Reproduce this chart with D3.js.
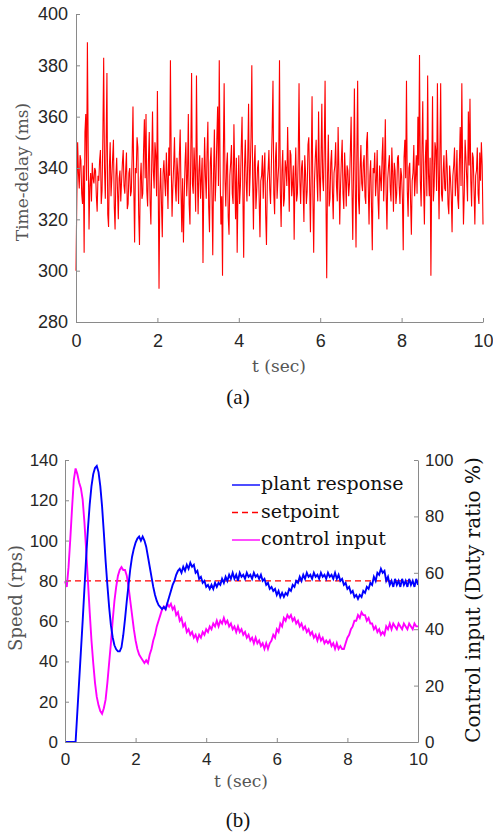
<!DOCTYPE html>
<html lang="en">
<head>
    <meta charset="UTF-8">
    <title>Time-delay and speed response</title>
    <script src="https://cdnjs.cloudflare.com/ajax/libs/d3/7.8.5/d3.min.js"></script>
    <style>
        body {
            margin: 0;
            background: white;
        }
        svg {
            display: block;
        }
        .axis path, .axis line {
            stroke: #8a8a8a;
            stroke-width: 1px;
        }
        .axis text {
            font-family: "Liberation Sans", Arial, sans-serif;
            fill: #262626;
        }
        .label {
            font-family: "DejaVu Serif", serif;
        }
        .caption {
            font-family: "Liberation Serif", "Times New Roman", serif;
            font-size: 21px;
            fill: #111;
        }
    </style>
</head>
<body>
    <svg id="chart" width="493" height="835"></svg>

    <script>
        // (a) network time-delay, one sample every 0.02 s (one row = 1 s)
        const delayStep = 0.02;
        const delayMs = [
            300, 328, 350, 338, 332, 345, 343, 330, 326, 341, 307, 354, 361, 335, 389, 347, 316, 333, 338, 327, 342, 336, 334, 340, 339, 329, 323, 337, 335, 343, 347, 326, 331, 352, 383, 340, 328, 349, 377, 322, 317, 340, 350, 329, 336, 344, 351, 325, 316, 337,
            344, 331, 320, 336, 339, 327, 335, 342, 347, 333, 330, 339, 346, 324, 326, 338, 340, 329, 331, 345, 364, 333, 311, 340, 338, 352, 348, 322, 310, 335, 342, 328, 330, 347, 359, 336, 361, 331, 325, 343, 354, 327, 318, 341, 362, 339, 332, 350, 345, 329,
            370, 334, 293, 331, 340, 326, 313, 338, 343, 335, 329, 346, 336, 324, 348, 337, 382, 341, 321, 333, 341, 352, 333, 327, 344, 338, 326, 345, 355, 331, 315, 336, 311, 329, 342, 350, 329, 337, 361, 326, 318, 345, 377, 334, 330, 348, 339, 323, 376, 340,
            322, 339, 345, 328, 336, 344, 303, 333, 352, 337, 328, 346, 358, 325, 315, 342, 348, 330, 306, 338, 355, 327, 336, 351, 364, 333, 382, 340, 318, 329, 298, 345, 373, 336, 325, 341, 346, 321, 314, 337, 342, 349, 330, 326, 357, 339, 320, 344, 307, 331,
            345, 326, 333, 348, 360, 330, 305, 340, 351, 335, 327, 344, 365, 329, 338, 352, 380, 336, 316, 342, 349, 324, 331, 340, 343, 328, 313, 335, 337, 345, 328, 339, 346, 322, 310, 334, 339, 347, 332, 326, 341, 355, 374, 330, 322, 343, 350, 328, 335, 341,
            382, 331, 317, 339, 347, 325, 328, 343, 340, 333, 356, 338, 323, 347, 345, 329, 334, 341, 312, 336, 348, 327, 330, 344, 373, 335, 326, 340, 343, 332, 319, 345, 338, 326, 331, 349, 352, 334, 315, 340, 368, 329, 307, 335, 344, 351, 336, 327, 362, 338,
            327, 343, 365, 336, 331, 348, 374, 330, 297, 337, 353, 325, 328, 342, 347, 331, 320, 338, 341, 350, 333, 327, 356, 339, 318, 333, 343, 351, 330, 324, 346, 337, 325, 341, 339, 329, 334, 346, 360, 332, 312, 340, 371, 335, 309, 344, 374, 328, 322, 339,
            349, 334, 331, 342, 345, 329, 326, 350, 354, 333, 318, 337, 343, 325, 308, 340, 338, 346, 329, 335, 347, 328, 320, 341, 336, 331, 344, 352, 327, 339, 359, 330, 316, 336, 341, 345, 332, 327, 348, 338, 323, 342, 339, 326, 330, 344, 345, 333, 326, 340,
            337, 328, 308, 344, 351, 336, 374, 331, 321, 340, 342, 327, 314, 335, 338, 349, 329, 336, 345, 330, 360, 341, 384, 335, 325, 347, 366, 333, 318, 342, 351, 329, 376, 338, 329, 344, 298, 336, 368, 327, 333, 350, 347, 331, 373, 339, 320, 345, 373, 330,
            327, 338, 345, 332, 331, 347, 340, 326, 322, 341, 336, 329, 315, 337, 341, 348, 329, 335, 347, 328, 324, 342, 356, 333, 373, 339, 318, 330, 351, 344, 336, 327, 362, 341, 367, 335, 325, 346, 344, 331, 318, 337, 339, 348, 330, 326, 346, 335, 350, 341,
            318
        ];

        // (b) speed loop, one sample every 0.05 s
        const speedStep = 0.05;
        const plantResponse = [
            0, 0, 0, 0, 0, 0, 0, 15, 30, 45, 60, 76, 92, 106, 118, 127, 133, 136, 137, 134,
            127, 117, 104, 90, 78, 67, 58, 52, 48, 46, 45, 45, 47, 53, 61, 70, 78, 86, 92, 96,
            99, 101, 102, 100, 102, 100, 97, 92, 87, 82, 77, 73, 70, 68, 67, 66, 67, 66, 69, 72,
            75, 78, 80, 83, 85, 86, 84, 87, 85, 88, 86, 89, 87, 88, 84, 85, 81, 82, 79, 80,
            77, 78, 76, 78, 76, 79, 77, 79, 78, 81, 79, 82, 80, 83, 81, 84, 81, 83, 80, 84,
            82, 83, 81, 84, 82, 83, 81, 84, 82, 83, 81, 83, 80, 81, 78, 79, 76, 77, 75, 76,
            73, 75, 72, 74, 72, 74, 73, 76, 75, 78, 77, 80, 79, 82, 80, 83, 81, 84, 82, 83,
            81, 84, 82, 83, 81, 84, 82, 83, 81, 84, 82, 83, 81, 84, 81, 83, 80, 81, 78, 79,
            76, 77, 74, 75, 72, 73, 71, 73, 72, 75, 74, 77, 76, 79, 78, 82, 80, 84, 83, 86,
            84, 85, 80, 82, 78, 80, 77, 81, 78, 80, 77, 81, 78, 80, 77, 81, 78, 80, 77, 81,
            78
        ];
        const controlInput = [
            57, 55, 62, 72, 83, 93, 97, 95, 92, 90, 86, 78, 68, 57, 46, 36, 28, 21, 16, 13,
            11, 10, 12, 15, 21, 28, 35, 43, 50, 55, 59, 61, 62, 61, 61, 59, 55, 50, 45, 40,
            36, 33, 31, 30, 29, 28, 29, 28, 31, 33, 36, 38, 41, 43, 45, 47, 48, 47, 49, 48,
            49, 47, 48, 45, 46, 43, 44, 41, 42, 39, 40, 38, 39, 37, 38, 36, 38, 37, 39, 38,
            40, 39, 41, 40, 42, 41, 43, 41, 43, 42, 44, 42, 43, 41, 42, 40, 41, 39, 41, 39,
            40, 38, 39, 37, 38, 36, 37, 35, 37, 35, 36, 34, 35, 33, 35, 33, 35, 36, 38, 37,
            40, 39, 42, 41, 44, 43, 45, 44, 45, 43, 44, 42, 43, 41, 42, 40, 41, 39, 40, 38,
            39, 37, 38, 36, 38, 36, 37, 35, 36, 35, 36, 34, 35, 33, 35, 33, 34, 33, 33, 35,
            37, 38, 40, 41, 43, 43, 45, 44, 46, 45, 45, 43, 44, 42, 42, 40, 41, 39, 40, 38,
            39, 38, 41, 40, 42, 40, 42, 41, 40, 42, 41, 40, 42, 41, 40, 42, 41, 40, 42, 41,
            41
        ];
        const setpointSpeed = 80;

        const timeTicks = [0, 2, 4, 6, 8, 10];
        const delayTicks = [280, 300, 320, 340, 360, 380, 400];
        const speedTicks = [0, 20, 40, 60, 80, 100, 120, 140];
        const dutyTicks = [0, 20, 40, 60, 80, 100];

        const legendItems = [
            { name: "plant response", color: "#0000ff", dash: null },
            { name: "setpoint", color: "#ff0000", dash: "6,4" },
            { name: "control input", color: "#ff00ff", dash: null }
        ];

        const svg = d3.select("#chart");

        // ---------- (a) ----------
        const xA = d3.scaleLinear().domain([0, 10]).range([76, 483]);
        const yA = d3.scaleLinear().domain([280, 400]).range([322, 14]);

        svg.append("path")
            .datum(delayMs)
            .attr("fill", "none")
            .attr("stroke", "#ff0000")
            .attr("stroke-width", 1.1)
            .attr("d", d3.line()
                .x((d, i) => xA(i * delayStep))
                .y(d => yA(d)));

        svg.append("g")
            .attr("class", "axis")
            .attr("transform", "translate(0,322)")
            .call(d3.axisBottom(xA).tickValues(timeTicks).tickSize(-4).tickSizeOuter(0).tickPadding(12))
            .selectAll("text").style("font-size", "18px");

        svg.append("g")
            .attr("class", "axis")
            .attr("transform", "translate(76,0)")
            .call(d3.axisLeft(yA).tickValues(delayTicks).tickSize(-4).tickSizeOuter(0).tickPadding(8))
            .selectAll("text").style("font-size", "18px");

        svg.append("text")
            .attr("class", "label")
            .attr("transform", "translate(28,172) rotate(-90)")
            .attr("text-anchor", "middle")
            .style("font-size", "17px")
            .style("fill", "#555")
            .text("Time-delay (ms)");

        svg.append("text")
            .attr("class", "label")
            .attr("x", 279).attr("y", 372)
            .attr("text-anchor", "middle")
            .style("font-size", "17px")
            .style("fill", "#555")
            .text("t (sec)");

        svg.append("text")
            .attr("class", "caption")
            .attr("x", 238).attr("y", 404)
            .attr("text-anchor", "middle")
            .text("(a)");

        // ---------- (b) ----------
        const xB = d3.scaleLinear().domain([0, 10]).range([65, 418]);
        const yB = d3.scaleLinear().domain([0, 140]).range([742, 460]);
        const yDuty = d3.scaleLinear().domain([0, 100]).range([742, 460]);

        svg.append("line")
            .attr("x1", xB(0)).attr("x2", xB(10))
            .attr("y1", yB(setpointSpeed)).attr("y2", yB(setpointSpeed))
            .attr("stroke", "#ff0000")
            .attr("stroke-width", 1.4)
            .attr("stroke-dasharray", "6,4");

        svg.append("path")
            .datum(controlInput)
            .attr("fill", "none")
            .attr("stroke", "#ff00ff")
            .attr("stroke-width", 1.9)
            .attr("d", d3.line()
                .x((d, i) => xB(i * speedStep))
                .y(d => yDuty(d)));

        svg.append("path")
            .datum(plantResponse)
            .attr("fill", "none")
            .attr("stroke", "#0000ff")
            .attr("stroke-width", 1.9)
            .attr("d", d3.line()
                .x((d, i) => xB(i * speedStep))
                .y(d => yB(d)));

        svg.append("g")
            .attr("class", "axis")
            .attr("transform", "translate(0,742)")
            .call(d3.axisBottom(xB).tickValues(timeTicks).tickSize(-4).tickSizeOuter(0).tickPadding(11))
            .selectAll("text").style("font-size", "17px");

        svg.append("g")
            .attr("class", "axis")
            .attr("transform", "translate(65,0)")
            .call(d3.axisLeft(yB).tickValues(speedTicks).tickSize(-4).tickSizeOuter(0).tickPadding(7))
            .selectAll("text").style("font-size", "17px");

        svg.append("g")
            .attr("class", "axis")
            .attr("transform", "translate(418,0)")
            .call(d3.axisRight(yDuty).tickValues(dutyTicks).tickSize(-4).tickSizeOuter(0).tickPadding(7))
            .selectAll("text").style("font-size", "17px");

        svg.append("text")
            .attr("class", "label")
            .attr("transform", "translate(22,598) rotate(-90)")
            .attr("text-anchor", "middle")
            .style("font-size", "18px")
            .style("fill", "#555")
            .text("Speed (rps)");

        svg.append("text")
            .attr("class", "label")
            .attr("transform", "translate(480,600) rotate(-90)")
            .attr("text-anchor", "middle")
            .style("font-size", "20px")
            .style("fill", "#111")
            .text("Control input (Duty ratio %)");

        svg.append("text")
            .attr("class", "label")
            .attr("x", 241).attr("y", 787)
            .attr("text-anchor", "middle")
            .style("font-size", "17px")
            .style("fill", "#555")
            .text("t (sec)");

        svg.append("text")
            .attr("class", "caption")
            .attr("x", 238).attr("y", 827)
            .attr("text-anchor", "middle")
            .text("(b)");

        // legend, no box
        const legend = svg.append("g");
        legendItems.forEach((item, i) => {
            const y = 485 + i * 27.5;
            legend.append("line")
                .attr("x1", 232).attr("x2", 260)
                .attr("y1", y).attr("y2", y)
                .attr("stroke", item.color)
                .attr("stroke-width", 1.4)
                .attr("stroke-dasharray", item.dash);
            legend.append("text")
                .attr("class", "label")
                .attr("x", 261).attr("y", y + 5)
                .style("font-size", "19px")
                .style("fill", "#111")
                .text(item.name);
        });
    </script>
</body>
</html>
